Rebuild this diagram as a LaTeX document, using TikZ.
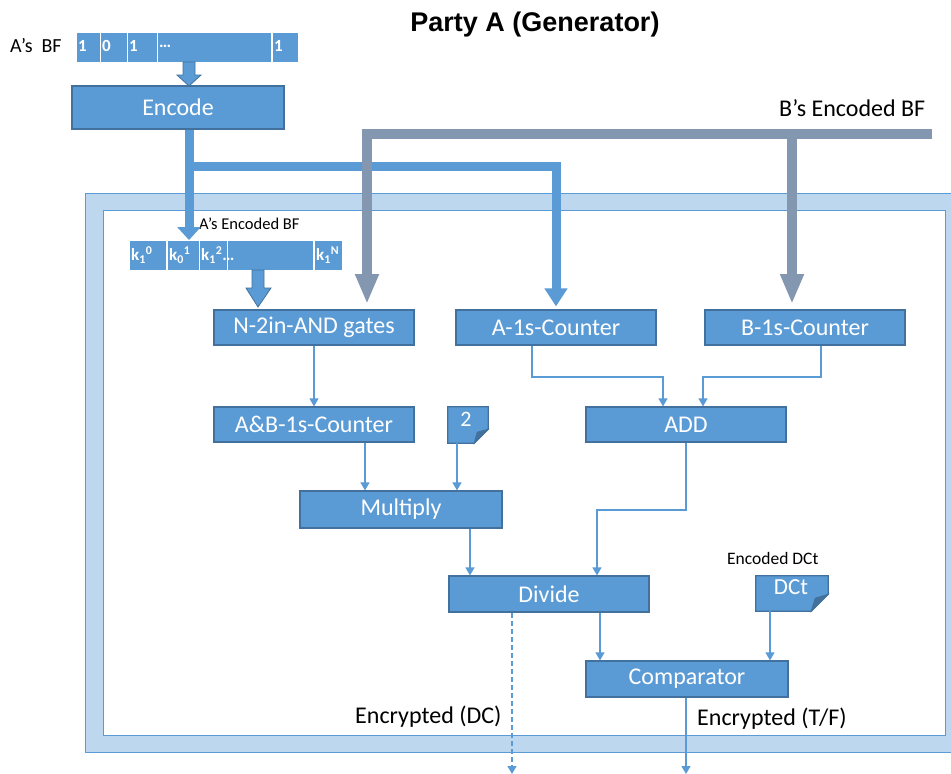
\documentclass[tikz,border=0pt]{standalone}
\usepackage{fontspec}
\setmainfont{Carlito}
\newfontfamily\titlefont{Liberation Sans}
\usetikzlibrary{arrows.meta,calc}
\definecolor{boxblue}{HTML}{5B9BD5}
\definecolor{boxedge}{HTML}{41719C}
\definecolor{framelight}{HTML}{BDD7EE}
\definecolor{pathgray}{HTML}{8497B0}
\definecolor{folddark}{HTML}{41719C}
\begin{document}
\begin{tikzpicture}[x=1pt,y=-1pt,
  box/.style={draw=boxedge, fill=boxblue, line width=1.2pt, text=white, minimum width=200pt, minimum height=35pt, inner sep=0pt, font=\fontsize{24}{28}\selectfont},
  conn/.style={draw=boxblue, line width=1.3pt, -{Triangle[width=9pt,length=8pt]}},
  thickblue/.style={draw=boxblue, line width=9pt, line join=miter},
  thickgray/.style={draw=pathgray, line width=10pt, line join=miter},
  bartext/.style={text=white, font=\fontsize{17}{19}\bfseries\selectfont, inner sep=2pt, anchor=west},
  plain/.style={text=black, inner sep=0pt},
  biglabel/.style={plain, anchor=west, font=\fontsize{24}{28}\selectfont},
  notebox/.style={minimum width=40pt, minimum height=36pt, inner sep=0pt},
  blockarrow/.style={fill=boxblue, draw=boxedge, line width=0.8pt, line join=miter},
  sepline/.style={draw=white, line width=1.4pt}
]
\useasboundingbox (0,0) rectangle (951,774);

% title
\node[plain, font=\titlefont\fontsize{27}{31}\bfseries\selectfont] (title) at (535,25) {Party A (Generator)};

% frame
\filldraw[fill=framelight, draw=boxblue, line width=1pt] (85,193) rectangle (960,752);
\filldraw[fill=white, draw=boxblue, line width=1pt] (103,210) rectangle (945,735);

% A's BF bar
\node[plain, anchor=west, font=\fontsize{20}{22}\selectfont] (abflabel) at (10,46) {A’s\hspace{0.45em}BF};
\node[fill=boxblue, minimum width=221pt, minimum height=29pt, inner sep=0pt] (abf) at (187.5,47.5) {};
\foreach \sx in {100.5,127.5,157.5,272} \draw[sepline] (\sx,33) -- (\sx,62);
\node[bartext] (b1) at (76,46) {1};
\node[bartext] (b2) at (100,46) {0};
\node[bartext] (b3) at (127,46) {1};
\node[bartext] (b4) at (157,46) {…};
\node[bartext] (b5) at (272,46) {1};

% block arrow to Encode
\filldraw[blockarrow] (183,62) -- (195,62) -- (195,75) -- (201,75) -- (189,86) -- (177,75) -- (183,75) -- cycle;

% Encode
\node[box, minimum width=212pt, minimum height=43pt] (encode) at (178,107.5) {Encode};

% A's encoded BF bar
\node[plain, anchor=west, font=\fontsize{16.5}{19}\selectfont] (eblabel) at (199,224) {A’s Encoded BF};
\node[fill=boxblue, minimum width=212pt, minimum height=29pt, inner sep=0pt] (ebar) at (236,255.5) {};
\foreach \sx in {167,199.5,227.5,314} \draw[sepline] (\sx,241) -- (\sx,270);
\node[bartext] (k1) at (129,255) {k\textsubscript{1}\textsuperscript{0}};
\node[bartext] (k2) at (167,255) {k\textsubscript{0}\textsuperscript{1}};
\node[bartext] (k3) at (199,255) {k\textsubscript{1}\textsuperscript{2}…};
\node[bartext] (k5) at (314,255) {k\textsubscript{1}\textsuperscript{N}};

% block arrow to AND
\filldraw[blockarrow] (252,270) -- (264,270) -- (264,288) -- (271,288) -- (258,307) -- (246,288) -- (252,288) -- cycle;

% boxes
\node[box] (and) at (314,327.5) {N-2in-AND gates};
\node[box] (acnt) at (556,327.5) {A-1s-Counter};
\node[box] (bcnt) at (805,327.5) {B-1s-Counter};
\node[box] (abcnt) at (314,424.5) {A\&B-1s-Counter};
\node[box] (add) at (686,424.5) {ADD};
\node[box, minimum width=202pt, minimum height=37pt] (mult) at (401,509.5) {Multiply};
\node[box, minimum height=36pt] (div) at (549,594) {Divide};
\node[box, minimum width=202pt, minimum height=36pt] (comp) at (687,679) {Comparator};

% notes
\node[notebox] (note2) at (468,425) {};
\filldraw[fill=boxblue, draw=boxedge, line width=1.2pt, line join=miter]
  (note2.north west) -- (note2.north east) -- ([yshift=14pt]note2.south east) -- ([xshift=-14pt]note2.south east) -- (note2.south west) -- cycle;
\filldraw[fill=folddark, draw=boxedge, line width=0.8pt]
  ([xshift=-14pt]note2.south east) -- ([xshift=-11pt,yshift=11pt]note2.south east) -- ([yshift=14pt]note2.south east) -- cycle;
\node[text=white, inner sep=0pt, font=\fontsize{22}{24}\selectfont] (two) at (466,419) {2};

\node[notebox, minimum width=72pt, minimum height=35pt] (dct) at (792,593.5) {};
\filldraw[fill=boxblue, draw=boxedge, line width=1.2pt, line join=miter]
  (dct.north west) -- (dct.north east) -- ([yshift=17pt]dct.south east) -- ([xshift=-17pt]dct.south east) -- (dct.south west) -- cycle;
\filldraw[fill=folddark, draw=boxedge, line width=0.8pt]
  ([xshift=-17pt]dct.south east) -- ([xshift=-13pt,yshift=13pt]dct.south east) -- ([yshift=17pt]dct.south east) -- cycle;
\node[text=white, inner sep=0pt, font=\fontsize{23}{25}\selectfont] (dcttext) at (791,587) {DCt};
\node[plain, anchor=west, font=\fontsize{17.5}{20}\selectfont] (dctlabel) at (727,558) {Encoded DCt};

% thick blue path
\coordinate (ein) at (189,240);
\coordinate (bsplit) at (189,166);
\draw[thickblue, -{Triangle[width=23pt,length=13pt]}] (encode.south -| ein) -- (ein);
\draw[thickblue, -{Triangle[width=22pt,length=18pt]}] (bsplit) -| ([yshift=3pt]acnt.north);

% thick gray path
\node[biglabel] (bebf) at (779,108) {B’s Encoded BF};
\coordinate (gstart) at (932,134);
\coordinate (gin1) at (367,304);
\coordinate (gin2) at (792,304);
\draw[thickgray, -{Triangle[width=22pt,length=30pt]}] (gstart) -| (gin1);
\draw[thickgray, -{Triangle[width=22pt,length=30pt]}] (gstart -| gin2) -- (gin2);

% connectors
\coordinate (j1) at (700,377);
\coordinate (j2) at (640,510);
\coordinate (addinA) at ([xshift=-23pt]add.north);
\coordinate (addinB) at ([xshift=17pt]add.north);
\draw[conn] (and.south) -- (abcnt.north);
\draw[conn] ([xshift=-24pt]acnt.south) |- (j1 -| addinA) -- (addinA);
\draw[conn] ([xshift=16pt]bcnt.south) |- (j1 -| addinB) -- (addinB);
\draw[conn] ([xshift=51pt]abcnt.south) -- ([xshift=-36pt]mult.north);
\draw[conn] ([xshift=-11pt]note2.south) -- ([xshift=56pt]mult.north);
\draw[conn] (add.south) -- (add.south |- j2) -| ([xshift=48pt]div.north);
\draw[conn] ([xshift=69pt]mult.south) -- ([xshift=-79pt]div.north);
\draw[conn] ([xshift=51pt]div.south) -- ([xshift=-87pt]comp.north);
\draw[conn] ([xshift=-22pt]dct.south) -- ([xshift=83pt]comp.north);
\coordinate (dcout) at (512,774);
\coordinate (tfout) at (686,774);
\draw[conn, dashed, dash pattern=on 5pt off 3pt] (div.south -| dcout) -- (dcout);
\draw[conn] (comp.south -| tfout) -- (tfout);

% output labels
\node[biglabel] (encdc) at (355,717) {Encrypted (DC)};
\node[biglabel] (enctf) at (697,719) {Encrypted (T/F)};
\end{tikzpicture}
\end{document}
